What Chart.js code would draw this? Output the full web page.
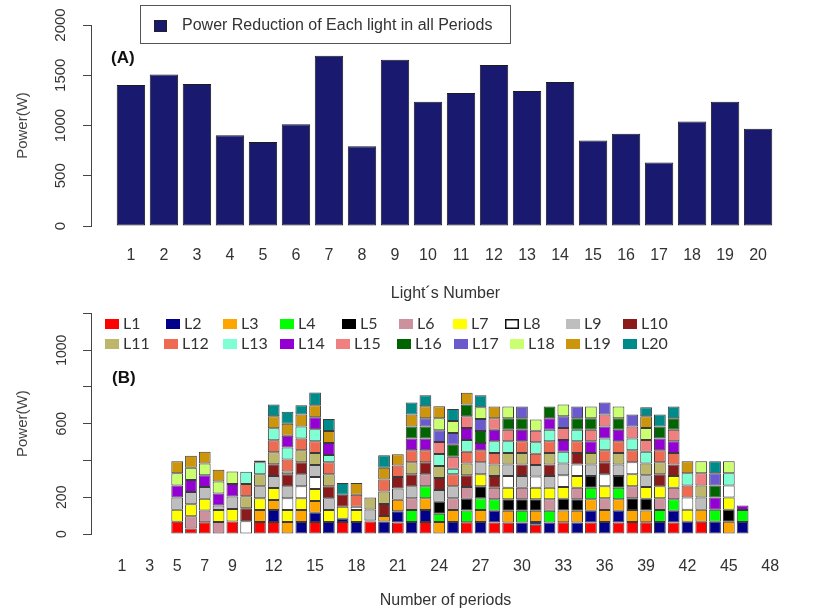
<!DOCTYPE html>
<html>
<head>
<meta charset="utf-8">
<script src="https://cdn.jsdelivr.net/npm/chart.js@4.4.1/dist/chart.umd.min.js"></script>
<style>
  body { margin: 0; background: #fff; }
  #wrap { position: relative; width: 822px; height: 611px; }
  canvas { position: absolute; left: 0; }
  #topChart { top: 0; }
  #bottomChart { top: 300px; }
</style>
</head>
<body>
<div id="wrap">
  <canvas id="topChart" width="822" height="305"></canvas>
  <canvas id="bottomChart" width="822" height="311"></canvas>
</div>
<script>
// (A) total reduction per light
const lights = [1, 2, 3, 4, 5, 6, 7, 8, 9, 10, 11, 12, 13, 14, 15, 16, 17, 18, 19, 20];
const lightPower = [1403, 1507, 1413, 903, 837, 1013, 1693, 793, 1653, 1237,
                    1323, 1603, 1343, 1433, 850, 917, 633, 1040, 1237, 967];
const topYTicks = [0, 500, 1000, 1500, 2000];

// (B) reduction of each light per period
const periods = [];
for (let p = 1; p <= 48; p++) periods.push(p);
const periodTicks = [1, 3, 5, 7, 9, 12, 15, 18, 21, 24, 27, 30, 33, 36, 39, 42, 45, 48];
const bottomYTicks = [0, 200, 400, 600, 800, 1000, 1200];
const bottomYLabels = [0, 200, 600, 1000];

const l1 = [0,0,0,0,66,30,64,0,68,0,65,65, 0,0,65,0,65,0,68,0,62,0,65,0, 0,64,0,63,63,0,50,0,64,0,63,0, 63,65,64,0,63,0,66,0,0,0,0,0];
const l2 = [0,0,0,0,0,0,0,0,0,0,0,65, 0,65,50,65,18,65,0,68,62,65,65,0, 65,0,65,63,0,63,15,63,0,63,63,65, 63,0,0,65,63,66,0,66,0,65,0,0];
const l3 = [0,0,0,0,0,0,0,0,0,0,65,55, 65,65,65,0,0,0,0,30,62,0,65,65, 65,0,65,0,63,0,62,0,64,63,63,65, 63,65,64,0,0,0,66,0,66,0,0,0];
const l4 = [0,0,0,0,0,0,0,0,0,0,0,0, 0,0,0,0,0,0,0,0,0,65,65,45, 0,64,65,63,0,63,0,63,0,0,63,0, 63,0,0,65,63,0,0,66,0,65,0,0];
const l5 = [0,0,0,0,0,0,0,0,0,0,0,0, 0,0,0,0,0,0,5,0,0,0,0,65, 0,64,65,0,63,63,62,0,64,63,63,0, 63,65,64,0,0,0,0,0,66,0,0,0];
const l6 = [0,0,0,0,0,66,64,65,0,0,0,0, 0,0,0,0,0,0,0,0,0,65,65,0, 65,64,0,63,0,63,0,63,0,63,0,65, 0,65,0,65,63,0,0,0,0,0,0,0];
const l7 = [0,0,0,0,66,66,64,65,68,0,65,65, 65,65,65,65,65,65,0,0,0,0,0,0, 0,0,65,0,63,0,62,63,64,63,0,65, 0,65,64,65,63,66,0,0,66,0,0,0];
const l8 = [0,0,0,0,0,0,0,0,0,70,0,0, 65,65,65,0,0,18,0,0,0,0,0,0, 0,0,0,0,63,0,62,0,64,63,0,65, 0,65,0,0,0,66,0,0,66,0,0,0];
const l9 = [0,0,0,0,66,66,64,25,68,0,65,65, 65,65,65,65,0,0,60,0,62,65,0,65, 65,0,65,0,63,63,62,63,64,0,63,0, 63,0,64,0,0,0,66,0,0,0,0,0];
const l10 = [0,0,0,0,0,0,0,0,0,70,0,65, 65,65,0,65,65,0,0,65,62,65,65,65, 0,64,0,63,0,63,0,63,0,63,0,65, 0,0,0,65,63,0,0,0,0,0,0,0];
const l11 = [0,0,0,0,0,0,0,0,0,66,65,65, 15,65,65,65,0,0,65,68,0,65,0,65, 0,64,0,63,63,63,0,63,0,0,63,0, 63,0,64,65,0,0,66,0,0,0,0,0];
const l12 = [0,0,0,0,0,0,0,0,0,66,0,65, 65,65,65,65,0,65,0,65,62,65,65,0, 65,64,65,63,0,63,62,63,0,63,0,65, 63,65,0,65,63,66,0,0,0,0,0,0];
const l13 = [0,0,0,0,0,0,0,0,0,66,65,65, 65,65,65,40,0,0,0,0,0,0,0,65, 30,64,0,63,63,0,62,63,64,63,0,65, 0,65,64,0,0,66,0,0,66,0,0,0];
const l14 = [0,0,0,0,66,66,64,65,68,0,0,0, 65,0,65,65,0,0,0,0,0,65,65,0, 0,64,40,63,0,63,0,63,64,0,63,65, 63,0,0,65,63,0,0,66,0,25,0,0];
const l15 = [0,0,0,0,0,0,0,0,0,0,0,0, 0,0,0,0,0,0,0,0,0,0,0,65, 65,64,0,63,63,0,62,0,64,0,63,65, 0,65,64,0,63,0,66,0,0,0,0,0];
const l16 = [0,0,0,0,0,0,0,0,0,0,0,0, 0,0,0,0,0,0,0,0,0,65,65,0, 65,64,65,0,63,63,0,63,0,63,63,0, 63,0,0,65,63,0,0,66,0,0,0,0];
const l17 = [0,0,0,0,0,0,0,0,0,0,0,0, 0,0,0,0,0,0,0,0,0,0,45,65, 65,0,65,0,0,63,0,0,64,63,0,65, 0,65,0,0,0,0,0,66,0,0,0,0];
const l18 = [0,0,0,0,66,66,64,65,68,0,0,0, 0,0,0,0,0,0,0,0,0,0,0,65, 65,0,65,0,63,0,62,0,64,0,63,0, 63,0,64,0,0,0,66,0,66,0,0,0];
const l19 = [0,0,0,0,66,66,64,65,0,0,0,65, 65,65,65,65,0,65,0,65,62,65,65,65, 0,64,0,63,0,0,0,0,0,0,0,0, 0,0,64,0,0,66,0,0,0,0,0,0];
const l20 = [0,0,0,0,0,0,0,0,0,0,10,65, 65,50,70,65,65,0,0,68,0,65,60,0, 65,0,65,0,0,0,0,0,0,0,0,0, 0,0,50,65,63,0,0,66,0,0,0,0];

const lightSeries = [l1, l2, l3, l4, l5, l6, l7, l8, l9, l10, l11, l12, l13, l14, l15, l16, l17, l18, l19, l20];
const lightColors = ['#FF0000', '#00008B', '#FFA500', '#00FF00', '#000000',
                     '#CD919E', '#FFFF00', '#FFFFFF', '#BEBEBE', '#8B1A1A',
                     '#BDB76B', '#EE6A50', '#7FFFD4', '#9400D3', '#F08080',
                     '#006400', '#6A5ACD', '#CAFF70', '#CD950C', '#008B8B'];

const barColor = '#191970';
const axisColor = '#444';
const textColor = '#333';

Chart.defaults.font.family = '"Liberation Sans", Arial, sans-serif';
Chart.defaults.color = textColor;

// legend box and panel letter of (A)
const topLegend = {
    id: 'topLegend',
    afterDraw(chart) {
        const ctx = chart.ctx;
        ctx.save();
        ctx.strokeStyle = '#555';
        ctx.lineWidth = 1;
        ctx.strokeRect(140.5, 5.5, 370, 38);
        ctx.fillStyle = barColor;
        ctx.fillRect(154, 20, 13, 12);
        ctx.strokeStyle = '#222';
        ctx.strokeRect(154.5, 20.5, 12, 11);
        ctx.fillStyle = textColor;
        ctx.font = '16px "Liberation Sans", Arial, sans-serif';
        ctx.textBaseline = 'middle';
        ctx.fillText(chart.data.datasets[0].label, 182, 26);
        ctx.fillStyle = '#111';
        ctx.font = 'bold 17px "Liberation Sans", Arial, sans-serif';
        ctx.fillText('(A)', 111, 58);
        ctx.restore();
    }
};

// two-row legend L1..L20 and panel letter of (B)
const legendRow1 = [105, 166, 223, 280, 342, 399, 453, 505, 566, 623];
const legendRow2 = [105, 164, 223, 280, 336, 397, 454, 510, 566, 623];
const bottomLegend = {
    id: 'bottomLegend',
    afterDraw(chart) {
        const ctx = chart.ctx;
        ctx.save();
        ctx.textBaseline = 'middle';
        chart.data.datasets.forEach((ds, i) => {
            const second = i >= 10;
            const x = (second ? legendRow2 : legendRow1)[i % 10];
            const y = second ? 44 : 24;
            ctx.fillStyle = ds.backgroundColor;
            ctx.fillRect(x, y - 5, 14, 10);
            if (ds.backgroundColor === '#FFFFFF') {
                ctx.strokeStyle = '#111';
                ctx.lineWidth = 1.5;
                ctx.strokeRect(x + 0.75, y - 4.25, 12.5, 8.5);
            }
            ctx.fillStyle = textColor;
            ctx.font = '16px Lato, "Liberation Sans", sans-serif';
            ctx.fillText(ds.label, x + 18, y);
        });
        ctx.fillStyle = '#111';
        ctx.font = 'bold 17px "Liberation Sans", Arial, sans-serif';
        ctx.fillText('(B)', 112, 78);
        ctx.restore();
    }
};

const topChart = new Chart(document.getElementById('topChart'), {
    type: 'bar',
    data: {
        labels: lights,
        datasets: [{
            label: 'Power Reduction of Each light in all Periods',
            data: lightPower,
            backgroundColor: barColor,
            borderColor: '#1c1c1c',
            borderWidth: 1,
            borderSkipped: false,
            barPercentage: 0.86,
            categoryPercentage: 1
        }]
    },
    options: {
        responsive: false,
        animation: false,
        layout: { padding: { top: 25, right: 22, bottom: 0, left: 0 } },
        plugins: {
            legend: { display: false },
            tooltip: { enabled: false }
        },
        scales: {
            x: {
                type: 'linear',
                min: -0.21,
                max: 21.27,
                offset: false,
                grid: { display: false, drawTicks: false },
                border: { display: false },
                afterBuildTicks: s => { s.ticks = lights.map(v => ({ value: v })); },
                afterFit: s => { s.height = 79; },
                ticks: {
                    padding: 20,
                    autoSkip: false,
                    maxRotation: 0,
                    color: textColor,
                    font: { size: 16 },
                    callback: v => String(v)
                },
                title: {
                    display: true,
                    text: 'Light´s Number',
                    color: textColor,
                    font: { size: 16 },
                    padding: { top: 0, bottom: 2 }
                }
            },
            y: {
                min: 0,
                max: 2000,
                afterBuildTicks: s => { s.ticks = topYTicks.map(v => ({ value: v })); },
                afterFit: s => { s.width = 91; },
                grid: { drawOnChartArea: false, drawTicks: true, tickLength: 8, color: axisColor },
                border: { display: true, color: axisColor },
                ticks: {
                    minRotation: 90,
                    maxRotation: 90,
                    crossAlign: 'center',
                    padding: 5,
                    autoSkip: false,
                    color: textColor,
                    font: { size: 15 },
                    callback: v => String(v)
                },
                title: {
                    display: true,
                    text: 'Power(W)',
                    color: axisColor,
                    font: { size: 15 },
                    padding: { top: 14, bottom: 0 }
                }
            }
        }
    },
    plugins: [topLegend]
});

const bottomChart = new Chart(document.getElementById('bottomChart'), {
    type: 'bar',
    data: {
        labels: periods,
        datasets: lightSeries.map((values, i) => ({
            label: 'L' + (i + 1),
            data: values,
            backgroundColor: lightColors[i],
            borderColor: '#3a3a3a',
            borderWidth: 1,
            borderSkipped: false,
            barPercentage: 0.85,
            categoryPercentage: 1
        }))
    },
    options: {
        responsive: false,
        animation: false,
        layout: { padding: { top: 13, right: 22, bottom: 0, left: 0 } },
        plugins: {
            legend: { display: false },
            tooltip: { enabled: false }
        },
        scales: {
            x: {
                type: 'linear',
                stacked: true,
                min: -1.248,
                max: 50.16,
                offset: false,
                grid: { display: false, drawTicks: false },
                border: { display: false },
                afterBuildTicks: s => { s.ticks = periodTicks.map(v => ({ value: v })); },
                afterFit: s => { s.height = 77; },
                ticks: {
                    padding: 23,
                    autoSkip: false,
                    maxRotation: 0,
                    color: textColor,
                    font: { size: 16 },
                    callback: v => String(v)
                },
                title: {
                    display: true,
                    text: 'Number of periods',
                    color: textColor,
                    font: { size: 16 },
                    padding: { top: 0, bottom: 1 }
                }
            },
            y: {
                stacked: true,
                min: 0,
                max: 1200,
                afterBuildTicks: s => { s.ticks = bottomYTicks.map(v => ({ value: v })); },
                afterFit: s => { s.width = 91; },
                grid: { drawOnChartArea: false, drawTicks: true, tickLength: 8, color: axisColor },
                border: { display: true, color: axisColor },
                ticks: {
                    minRotation: 90,
                    maxRotation: 90,
                    crossAlign: 'center',
                    padding: 5,
                    autoSkip: false,
                    color: textColor,
                    font: { size: 14 },
                    callback: v => bottomYLabels.includes(v) ? String(v) : ''
                },
                title: {
                    display: true,
                    text: 'Power(W)',
                    color: axisColor,
                    font: { size: 15 },
                    padding: { top: 14, bottom: 0 }
                }
            }
        }
    },
    plugins: [bottomLegend]
});
</script>
</body>
</html>
